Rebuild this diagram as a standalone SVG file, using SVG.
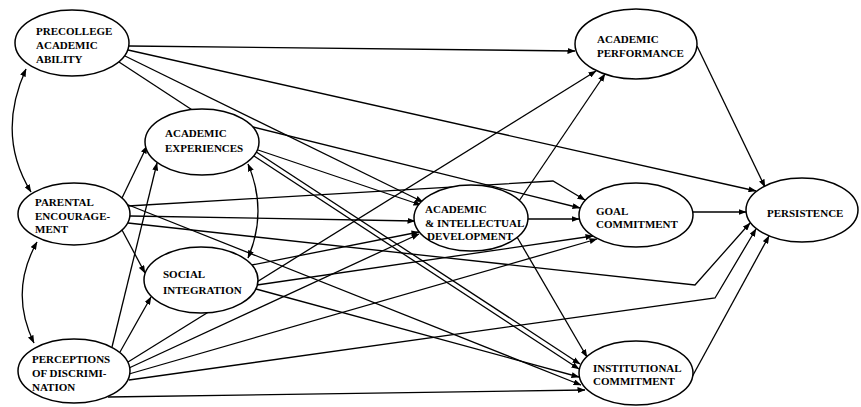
<svg xmlns="http://www.w3.org/2000/svg" width="861" height="407" viewBox="0 0 861 407">
<style>
.n ellipse{fill:#fff;stroke:#000;stroke-width:1.5}
.n text{font-family:"Liberation Serif","Times New Roman",serif;font-size:11px;font-weight:bold;fill:#000}
.c path,.c line,.c polyline{fill:none;stroke:#000;stroke-width:1.3}
.c .a{marker-end:url(#ah)}
.c .d{marker-start:url(#ah);marker-end:url(#ah)}
</style>
<defs>
<marker id="ah" markerUnits="userSpaceOnUse" markerWidth="8" markerHeight="6" refX="7.5" refY="3" orient="auto-start-reverse">
<path d="M0,0 L8,3 L0,6 z" fill="#000"/>
</marker>
</defs>
<rect width="861" height="407" fill="#fff"/>
<g id="connectors" class="c">
<!-- correlations -->
<path class="d" d="M26,69 Q-4,135 31,192"/>
<path class="d" d="M37,242 Q9,292 34,343"/>
<path class="d" d="M248,164 Q268,211 248,258"/>
<!-- precollege -->
<line class="a" x1="129" y1="46" x2="575" y2="51"/>
<line class="a" x1="128" y1="50" x2="756" y2="191"/>
<line class="a" x1="125" y1="56" x2="423" y2="202"/>
<line class="a" x1="119" y1="62" x2="580" y2="364"/>
<!-- parental -->
<line class="a" x1="122" y1="198" x2="147" y2="146"/>
<line class="a" x1="122" y1="230" x2="145" y2="273"/>
<polyline class="a" points="128,206 553,181 585,200"/>
<line class="a" x1="130" y1="216" x2="415" y2="221"/>
<line class="a" x1="126" y1="204" x2="581" y2="385"/>
<polyline class="a" points="128,223 695,285 750,223"/>
<!-- perceptions -->
<line class="a" x1="112" y1="347" x2="157" y2="163"/>
<line class="a" x1="120" y1="352" x2="151" y2="297"/>
<line class="a" x1="128" y1="362" x2="596" y2="71"/>
<line class="a" x1="129" y1="368" x2="419" y2="234"/>
<line class="a" x1="129" y1="374" x2="597" y2="239"/>
<polyline class="a" points="129,380 715,298 756,229"/>
<line class="a" x1="108" y1="397" x2="585" y2="390"/>
<!-- academic experiences -->
<line class="a" x1="253" y1="127" x2="580" y2="208"/>
<line class="a" x1="258" y1="150" x2="421" y2="205"/>
<line class="a" x1="254" y1="156" x2="579" y2="369"/>
<!-- social integration -->
<line class="a" x1="252" y1="265" x2="419" y2="232"/>
<line class="a" x1="257" y1="285" x2="593" y2="236"/>
<line class="a" x1="256" y1="289" x2="579" y2="377"/>
<!-- academic & intellectual development -->
<line class="a" x1="519" y1="201" x2="605" y2="74"/>
<line class="a" x1="528" y1="219" x2="579" y2="219"/>
<line class="a" x1="517" y1="237" x2="587" y2="357"/>
<!-- to persistence -->
<line class="a" x1="697" y1="46" x2="765" y2="187"/>
<line class="a" x1="693" y1="212" x2="746" y2="212"/>
<line class="a" x1="692" y1="377" x2="769" y2="236"/>
</g>
<g id="precollege" class="n"><ellipse cx="72" cy="43" rx="57" ry="33"/><text x="36" y="35">PRECOLLEGE</text><text x="36" y="49">ACADEMIC</text><text x="36" y="63">ABILITY</text></g>
<g id="parental" class="n"><ellipse cx="74" cy="214" rx="56" ry="31"/><text x="35" y="206">PARENTAL</text><text x="35" y="220">ENCOURAGE-</text><text x="35" y="233">MENT</text></g>
<g id="perceptions" class="n"><ellipse cx="74" cy="371" rx="56" ry="32"/><text x="32" y="363">PERCEPTIONS</text><text x="32" y="377">OF DISCRIMI-</text><text x="32" y="391">NATION</text></g>
<g id="academic-experiences" class="n"><ellipse cx="202" cy="142" rx="57" ry="33"/><text x="165" y="137">ACADEMIC</text><text x="165" y="152">EXPERIENCES</text></g>
<g id="social-integration" class="n"><ellipse cx="201" cy="280" rx="57" ry="33"/><text x="163" y="278">SOCIAL</text><text x="163" y="294">INTEGRATION</text></g>
<g id="aid" class="n"><ellipse cx="471" cy="218" rx="57" ry="33"/><text x="425" y="213">ACADEMIC</text><text x="425" y="227">&amp; INTELLECTUAL</text><text x="427" y="240">DEVELOPMENT</text></g>
<g id="academic-performance" class="n"><ellipse cx="636" cy="44" rx="61" ry="35"/><text x="597" y="43">ACADEMIC</text><text x="597" y="57">PERFORMANCE</text></g>
<g id="goal-commitment" class="n"><ellipse cx="636" cy="215" rx="57" ry="32"/><text x="596" y="215">GOAL</text><text x="596" y="228">COMMITMENT</text></g>
<g id="persistence" class="n"><ellipse cx="802" cy="210" rx="56" ry="32"/><text x="767" y="217">PERSISTENCE</text></g>
<g id="institutional-commitment" class="n"><ellipse cx="636" cy="373" rx="57" ry="32"/><text x="593" y="372">INSTITUTIONAL</text><text x="593" y="385">COMMITMENT</text></g>
</svg>
